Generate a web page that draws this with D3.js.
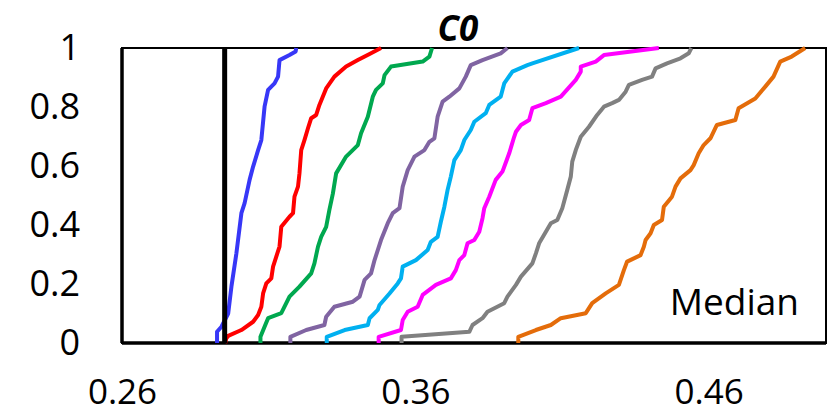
<!DOCTYPE html>
<html>
<head>
<meta charset="utf-8">
<script src="https://cdn.jsdelivr.net/npm/d3@7"></script>
<style>
  body { margin: 0; background: #fff; }
  text { font-family: "Open Sans", "Noto Sans", sans-serif; fill: #000; }
</style>
</head>
<body>
<div id="chart"></div>
<script>
// tick labels
const xTicks = [0.26, 0.36, 0.46];
const yTicks = [0, 0.2, 0.4, 0.6, 0.8, 1];
const medianLine = 0.295;

// cumulative curves, [value, fraction]
const blueCdf = [[0.2924,0],[0.2924,0.038],[0.2939,0.055],[0.2962,0.100],[0.2973,0.191],[0.2990,0.304],[0.3007,0.440],[0.3018,0.474],[0.3035,0.553],[0.3047,0.598],[0.3064,0.654],[0.3075,0.688],[0.3086,0.801],[0.3098,0.858],[0.3120,0.880],[0.3132,0.903],[0.3137,0.959],[0.3171,0.976],[0.3192,0.988],[0.3194,1]];
const redCdf = [[0.2952,0],[0.2955,0.015],[0.2962,0.024],[0.3007,0.044],[0.3047,0.072],[0.3064,0.095],[0.3075,0.123],[0.3081,0.168],[0.3092,0.202],[0.3109,0.219],[0.3115,0.259],[0.3126,0.293],[0.3137,0.327],[0.3143,0.394],[0.3171,0.428],[0.3183,0.440],[0.3188,0.496],[0.3200,0.530],[0.3205,0.575],[0.3211,0.654],[0.3222,0.688],[0.3234,0.728],[0.3245,0.762],[0.3262,0.773],[0.3273,0.807],[0.3296,0.863],[0.3324,0.903],[0.3364,0.937],[0.3404,0.959],[0.3444,0.980],[0.3483,1]];
const greenCdf = [[0.3072,0],[0.3072,0.021],[0.3086,0.055],[0.3098,0.084],[0.3143,0.101],[0.3171,0.157],[0.3205,0.191],[0.3245,0.236],[0.3256,0.270],[0.3268,0.326],[0.3279,0.360],[0.3296,0.394],[0.3307,0.451],[0.3319,0.507],[0.3330,0.575],[0.3364,0.632],[0.3404,0.671],[0.3415,0.711],[0.3438,0.767],[0.3455,0.835],[0.3466,0.858],[0.3489,0.880],[0.3495,0.908],[0.3517,0.937],[0.3625,0.954],[0.3648,0.971],[0.3657,1]];
const purpleCdf = [[0.3174,0],[0.3174,0.021],[0.3228,0.044],[0.3290,0.061],[0.3296,0.089],[0.3324,0.123],[0.3387,0.140],[0.3410,0.157],[0.3427,0.214],[0.3449,0.236],[0.3461,0.281],[0.3483,0.349],[0.3506,0.406],[0.3523,0.440],[0.3546,0.457],[0.3557,0.530],[0.3574,0.586],[0.3597,0.632],[0.3631,0.654],[0.3648,0.682],[0.3665,0.694],[0.3676,0.767],[0.3693,0.818],[0.3716,0.835],[0.3750,0.863],[0.3772,0.903],[0.3789,0.942],[0.3829,0.959],[0.3891,0.982],[0.3914,1]];
const cyanCdf = [[0.3298,0],[0.3298,0.021],[0.3359,0.044],[0.3438,0.061],[0.3444,0.084],[0.3472,0.112],[0.3478,0.129],[0.3512,0.168],[0.3540,0.202],[0.3551,0.219],[0.3557,0.259],[0.3602,0.281],[0.3642,0.315],[0.3653,0.343],[0.3676,0.360],[0.3687,0.411],[0.3699,0.462],[0.3710,0.519],[0.3721,0.564],[0.3733,0.620],[0.3755,0.654],[0.3767,0.688],[0.3789,0.722],[0.3801,0.750],[0.3840,0.779],[0.3852,0.807],[0.3891,0.835],[0.3903,0.880],[0.3931,0.920],[0.3982,0.942],[0.3999,0.948],[0.4158,1]];
const magentaCdf = [[0.3475,0],[0.3475,0.021],[0.3551,0.044],[0.3557,0.078],[0.3574,0.106],[0.3608,0.123],[0.3625,0.163],[0.3670,0.197],[0.3721,0.219],[0.3738,0.247],[0.3750,0.281],[0.3767,0.298],[0.3778,0.338],[0.3801,0.349],[0.3818,0.377],[0.3829,0.423],[0.3835,0.457],[0.3852,0.496],[0.3874,0.553],[0.3897,0.581],[0.3920,0.643],[0.3937,0.699],[0.3943,0.716],[0.3960,0.739],[0.3988,0.756],[0.3999,0.796],[0.4045,0.813],[0.4096,0.835],[0.4147,0.892],[0.4164,0.920],[0.4164,0.937],[0.4215,0.954],[0.4243,0.976],[0.4430,1]];
const grayCdf = [[0.3553,0],[0.3553,0.021],[0.3784,0.038],[0.3795,0.061],[0.3829,0.084],[0.3846,0.106],[0.3903,0.135],[0.3914,0.157],[0.3943,0.197],[0.3960,0.225],[0.3999,0.270],[0.4011,0.304],[0.4022,0.338],[0.4045,0.377],[0.4062,0.406],[0.4084,0.417],[0.4101,0.457],[0.4118,0.519],[0.4130,0.564],[0.4135,0.615],[0.4147,0.654],[0.4164,0.699],[0.4192,0.733],[0.4220,0.773],[0.4243,0.801],[0.4271,0.813],[0.4294,0.824],[0.4317,0.852],[0.4328,0.875],[0.4373,0.892],[0.4407,0.903],[0.4419,0.931],[0.4458,0.948],[0.4504,0.965],[0.4532,0.982],[0.4541,1]];
const orangeCdf = [[0.3951,0],[0.3951,0.021],[0.4011,0.044],[0.4062,0.061],[0.4096,0.084],[0.4181,0.101],[0.4203,0.135],[0.4249,0.168],[0.4294,0.197],[0.4311,0.247],[0.4322,0.276],[0.4368,0.298],[0.4379,0.326],[0.4385,0.349],[0.4402,0.372],[0.4413,0.400],[0.4441,0.417],[0.4447,0.462],[0.4475,0.496],[0.4487,0.530],[0.4504,0.558],[0.4538,0.586],[0.4549,0.603],[0.4566,0.643],[0.4583,0.671],[0.4606,0.694],[0.4628,0.739],[0.4691,0.756],[0.4702,0.796],[0.4759,0.829],[0.4793,0.869],[0.4821,0.903],[0.4844,0.954],[0.4883,0.971],[0.4929,1]];

const seriesData = [blueCdf, redCdf, greenCdf, purpleCdf, cyanCdf, magentaCdf, grayCdf, orangeCdf];
const seriesColors = ["#3737f7", "#ff0000", "#00a84f", "#8064a2", "#00b0f0", "#ff00ff", "#808080", "#e46c0a"];

// set the dimensions and margins of the graph
const W = 828, H = 416;
const margin = { top: 48, right: 2, bottom: 73, left: 122 },
  width = W - margin.left - margin.right,
  height = H - margin.top - margin.bottom;

const svg = d3.select("#chart")
  .append("svg")
  .attr("width", W)
  .attr("height", H)
  .append("g")
  .attr("transform", `translate(${margin.left},${margin.top})`);

const x = d3.scaleLinear().domain([0.26, 0.50]).range([0, width]);
const y = d3.scaleLinear().domain([0, 1]).range([height, 0]);

// frame
svg.append("rect")
  .attr("x", 0).attr("y", 0)
  .attr("width", width).attr("height", height)
  .attr("fill", "none")
  .attr("stroke", "#000")
  .attr("stroke-width", 2);
svg.append("line")
  .attr("x1", 0).attr("x2", 0).attr("y1", 0).attr("y2", height)
  .attr("stroke", "#000").attr("stroke-width", 3.5);
svg.append("line")
  .attr("x1", 0).attr("x2", width).attr("y1", height).attr("y2", height)
  .attr("stroke", "#000").attr("stroke-width", 3.5);

// y axis
const yAxis = svg.append("g")
  .call(d3.axisLeft(y).tickValues(yTicks).tickSize(0).tickPadding(42).tickFormat(d3.format("")));
yAxis.select(".domain").remove();
yAxis.selectAll("text")
  .style("font-family", "'Open Sans', sans-serif")
  .style("font-size", "36px");

// x axis
const xAxis = svg.append("g")
  .attr("transform", `translate(0,${height})`)
  .call(d3.axisBottom(x).tickValues(xTicks).tickSize(0).tickFormat(d3.format(".2f")));
xAxis.select(".domain").remove();
xAxis.selectAll("text")
  .attr("y", 61)
  .attr("dy", 0)
  .style("font-family", "'Open Sans', sans-serif")
  .style("font-size", "35px");

// curves
const line = d3.line()
  .x(d => x(d[0]))
  .y(d => y(d[1]));

svg.selectAll(".cdf")
  .data(seriesData)
  .join("path")
  .attr("class", "cdf")
  .attr("fill", "none")
  .attr("stroke", (d, i) => seriesColors[i])
  .attr("stroke-width", 4)
  .attr("stroke-linejoin", "round")
  .attr("d", line);

// median marker
svg.append("line")
  .attr("x1", x(medianLine)).attr("x2", x(medianLine))
  .attr("y1", 0).attr("y2", height)
  .attr("stroke", "#000")
  .attr("stroke-width", 5);

// title
svg.append("text")
  .attr("x", x(0.3745))
  .attr("y", -7)
  .attr("text-anchor", "middle")
  .style("font-size", "35px")
  .style("font-weight", "bold")
  .style("font-style", "italic")
  .text("C0");

svg.append("text")
  .attr("x", width - 27)
  .attr("y", 267)
  .attr("text-anchor", "end")
  .style("font-size", "37px")
  .text("Median");
</script>
</body>
</html>
